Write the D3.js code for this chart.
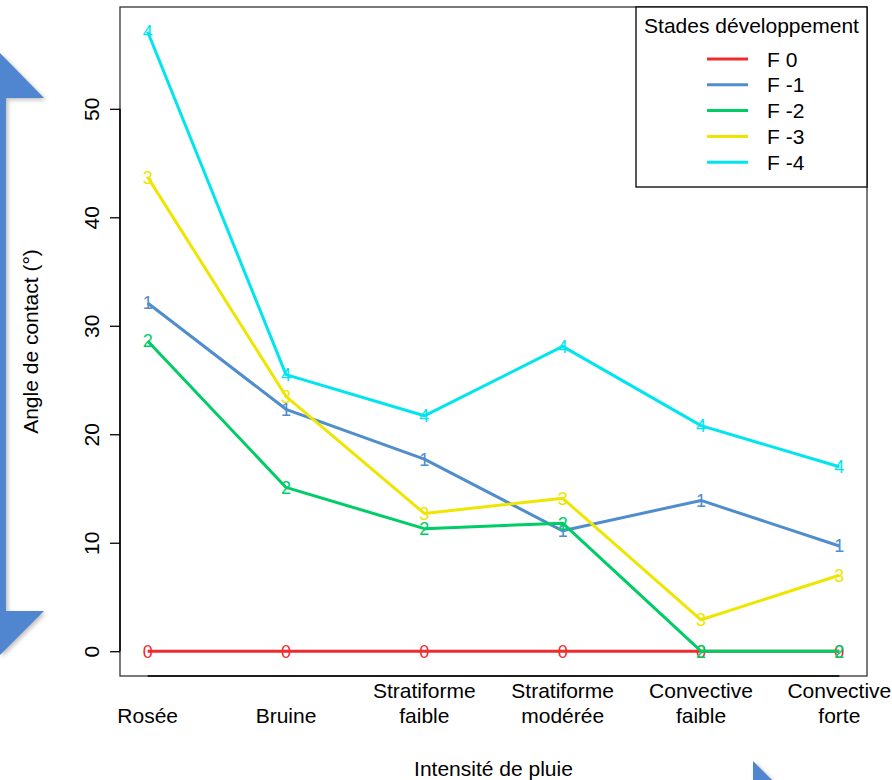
<!DOCTYPE html>
<html>
<head>
<meta charset="utf-8">
<script src="https://cdn.jsdelivr.net/npm/d3@7"></script>
<style>
  html, body { margin: 0; padding: 0; background: #fff; }
  svg { display: block; font-family: "Liberation Sans", Arial, sans-serif; }
</style>
</head>
<body>
<svg id="chart" width="892" height="780"></svg>
<script>
// ---- data ----
const categories = ["Rosée", "Bruine", "Stratiforme\nfaible", "Stratiforme\nmodérée", "Convective\nfaible", "Convective\nforte"];
const seriesNames = ["F 0", "F -1", "F -2", "F -3", "F -4"];
const seriesSymbols = ["0", "1", "2", "3", "4"];
const seriesColors = ["#EE2C2C", "#4F8DCD", "#00CD66", "#EEE600", "#00E5EE"];
const F0 = [0, 0, 0, 0, 0, 0];
const F1 = [32.1, 22.3, 17.7, 11.1, 13.9, 9.7];
const F2 = [28.6, 15.1, 11.3, 11.8, 0, 0];
const F3 = [43.7, 23.5, 12.7, 14.1, 2.9, 7.0];
const F4 = [57.1, 25.5, 21.7, 28.1, 20.8, 17.0];
const seriesValues = [F0, F1, F2, F3, F4];
const yTicks = [0, 10, 20, 30, 40, 50];
const xTitle = "Intensité de pluie";
const yTitle = "Angle de contact (°)";
const legendTitle = "Stades développement";

// ---- layout ----
const svg = d3.select("#chart");
const plot = { left: 120, right: 867, top: 7, bottom: 676 };

// decorative blue arrow shapes (background)
svg.append("path")
  .attr("d", d3.line()([[0, 53], [44, 98], [6, 98], [6, 611], [44, 611], [0, 655]]) + "Z")
  .attr("fill", "#4F86CF")
  .attr("stroke", "none")
  .style("filter", "drop-shadow(2px 2px 2px rgba(0,0,0,0.25))");
svg.append("path")
  .attr("d", d3.line()([[753, 761], [773, 781], [753, 781]]) + "Z")
  .attr("fill", "#4F86CF")
  .style("filter", "drop-shadow(2px 2px 2px rgba(0,0,0,0.25))");

const allVals = seriesValues.flat();
const yMin = 0, yMax = d3.max(allVals);
const pad = (yMax - yMin) * 0.04;
const y = d3.scaleLinear().domain([yMin - pad, yMax + pad]).range([plot.bottom, plot.top]);
const x = d3.scalePoint().domain(categories).range([plot.left, plot.right]).padding(0.2);

// plot box
svg.append("rect")
  .attr("x", plot.left).attr("y", plot.top)
  .attr("width", plot.right - plot.left).attr("height", plot.bottom - plot.top)
  .attr("fill", "none").attr("stroke", "#333").attr("stroke-width", 1.3);

// y axis
const yAxis = svg.append("g")
  .attr("transform", `translate(${plot.left},0)`)
  .call(d3.axisLeft(y).tickValues(yTicks).tickSize(10).tickFormat(d3.format("d")));
yAxis.select(".domain").remove();
yAxis.append("line")
  .attr("x1", 0).attr("x2", 0)
  .attr("y1", y(yTicks[0])).attr("y2", y(yTicks[yTicks.length - 1]))
  .attr("stroke", "#000").attr("stroke-width", 1.5);
yAxis.selectAll(".tick line").attr("stroke", "#000").attr("stroke-width", 1.3);
yAxis.selectAll(".tick text")
  .attr("transform", "rotate(-90)")
  .attr("x", 0).attr("y", -21).attr("dy", null)
  .attr("text-anchor", "middle")
  .attr("fill", "#000")
  .style("font-size", "21px")
  .style("font-family", "'Liberation Sans', Arial, sans-serif");

// x axis line (from first to last category)
svg.append("line")
  .attr("x1", x(categories[0])).attr("x2", x(categories[categories.length - 1]))
  .attr("y1", plot.bottom).attr("y2", plot.bottom)
  .attr("stroke", "#000").attr("stroke-width", 1.5);

// x labels (multi-line, bottom aligned)
const xLab = svg.append("g").style("font-size", "21px").attr("fill", "#000");
categories.forEach(c => {
  const lines = c.split("\n");
  lines.forEach((ln, i) => {
    xLab.append("text")
      .attr("x", x(c))
      .attr("y", 723 - (lines.length - 1 - i) * 25)
      .attr("text-anchor", "middle")
      .text(ln);
  });
});

// axis titles
svg.append("text")
  .attr("x", (plot.left + plot.right) / 2).attr("y", 776)
  .attr("text-anchor", "middle").style("font-size", "21px").text(xTitle);
svg.append("text")
  .attr("transform", `translate(38,${(plot.top + plot.bottom) / 2}) rotate(-90)`)
  .attr("text-anchor", "middle").style("font-size", "21px").text(yTitle);

// series
const line = d3.line().x((d, i) => x(categories[i])).y(d => y(d));
seriesValues.forEach((vals, s) => {
  const g = svg.append("g");
  g.append("path")
    .attr("d", line(vals))
    .attr("fill", "none")
    .attr("stroke", seriesColors[s])
    .attr("stroke-width", 3)
    .attr("stroke-linejoin", "round");
  g.selectAll("text").data(vals).join("text")
    .attr("x", (d, i) => x(categories[i]))
    .attr("y", d => y(d))
    .attr("dy", "0.36em")
    .attr("text-anchor", "middle")
    .attr("fill", seriesColors[s])
    .style("font-size", "18px")
    .text(seriesSymbols[s]);
});

// legend
const leg = svg.append("g");
leg.append("rect")
  .attr("x", 636).attr("y", plot.top)
  .attr("width", plot.right - 636).attr("height", 180)
  .attr("fill", "#fff").attr("stroke", "#000").attr("stroke-width", 1.3);
leg.append("text")
  .attr("x", (636 + plot.right) / 2).attr("y", 33)
  .attr("text-anchor", "middle").style("font-size", "21px").text(legendTitle);
seriesNames.forEach((n, i) => {
  const ly = 59 + i * 25.8;
  leg.append("line")
    .attr("x1", 707).attr("x2", 748).attr("y1", ly).attr("y2", ly)
    .attr("stroke", seriesColors[i]).attr("stroke-width", 3);
  leg.append("text")
    .attr("x", 767).attr("y", ly + 7.5)
    .style("font-size", "21px").text(n);
});
</script>
</body>
</html>
